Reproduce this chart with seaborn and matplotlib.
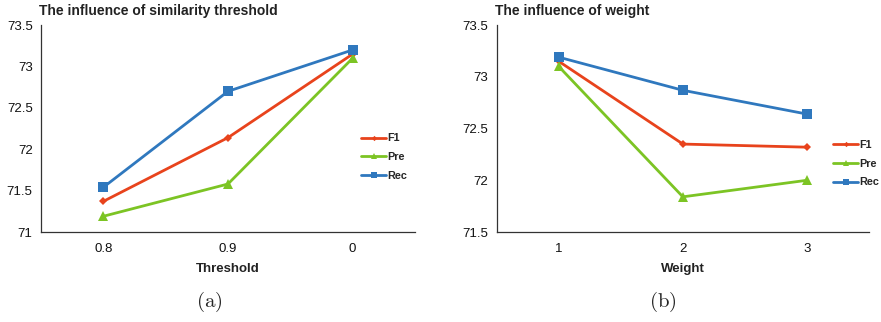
import pandas as pd
import matplotlib.pyplot as plt
import seaborn as sns

# --- Data ---
METRICS = ["F1", "Pre", "Rec"]

THRESHOLDS = ["0.8", "0.9", "0"]
THRESH_F1 = [71.37, 72.14, 73.15]
THRESH_PRE = [71.19, 71.58, 73.10]
THRESH_REC = [71.54, 72.70, 73.20]

WEIGHTS = ["1", "2", "3"]
WEIGHT_F1 = [73.15, 72.35, 72.32]
WEIGHT_PRE = [73.10, 71.84, 72.00]
WEIGHT_REC = [73.19, 72.87, 72.64]

# --- Style ---
COLORS = {"F1": "#E8431C", "Pre": "#7CC424", "Rec": "#2F78BE"}
MARKERS = {"F1": "D", "Pre": "^", "Rec": "s"}
SIZES = {"F1": 4.5, "Pre": 7, "Rec": 6.5}
FONT = "Liberation Sans"


def to_long(xs, f1, pre, rec, xname):
    rows = []
    for name, vals in zip(METRICS, [f1, pre, rec]):
        for x, v in zip(xs, vals):
            rows.append({xname: x, "Metric": name, "Score": v})
    return pd.DataFrame(rows)


def draw_panel(ax, df, xname, title, ylim, yticks, legend_anchor):
    sns.lineplot(data=df, x=xname, y="Score", hue="Metric", style="Metric",
                 palette=COLORS, markers=MARKERS, dashes=False, sort=False,
                 linewidth=2.0, markeredgewidth=0, ax=ax)
    # per-series marker sizes
    for line, name in zip(ax.get_lines()[:3], METRICS):
        line.set_markersize(SIZES[name])

    ax.set_xlim(-0.5, 2.5)
    ax.set_ylim(*ylim)
    ax.set_yticks(yticks)
    ax.set_yticklabels([f"{t:g}" for t in yticks], fontsize=9.5, family=FONT)
    for lab in ax.get_xticklabels():
        lab.set_fontsize(9.5)
        lab.set_family(FONT)
    ax.tick_params(axis="both", colors="#111111")
    ax.tick_params(axis="y", length=3, width=0.8, color="#333333", pad=3)
    ax.tick_params(axis="x", length=0, pad=8)
    for s in ["top", "right"]:
        ax.spines[s].set_visible(False)
    for s in ["left", "bottom"]:
        ax.spines[s].set_color("#333333")
        ax.spines[s].set_linewidth(0.9)

    ax.set_ylabel("")
    ax.set_xlabel(xname, fontsize=9.5, family=FONT, fontweight="bold",
                  color="#222222", labelpad=6)
    ax.set_title(title, loc="left", x=-0.005, pad=7, fontsize=10,
                 family=FONT, fontweight="bold", color="#222222")

    handles, labels = ax.get_legend_handles_labels()
    for h, name in zip(handles, METRICS):
        h.set_markersize(SIZES[name] * 0.6)
        h.set_linewidth(2.0)
    ax.legend(handles, labels, loc="center left", bbox_to_anchor=legend_anchor,
              frameon=False, handlelength=2.3, handletextpad=0.1,
              labelspacing=0.8, borderaxespad=0,
              prop={"family": FONT, "size": 7.8, "weight": "bold"})


sns.set_style("white")
plt.rcParams["mathtext.fontset"] = "cm"

fig = plt.figure(figsize=(8.81, 3.22), dpi=100)
ax1 = fig.add_axes([0.0465, 0.2795, 0.4245, 0.6425])
ax2 = fig.add_axes([0.5638, 0.2795, 0.4226, 0.6425])

df_t = to_long(THRESHOLDS, THRESH_F1, THRESH_PRE, THRESH_REC, "Threshold")
df_w = to_long(WEIGHTS, WEIGHT_F1, WEIGHT_PRE, WEIGHT_REC, "Weight")

draw_panel(ax1, df_t, "Threshold", "The influence of similarity threshold",
           (71, 73.5), [71, 71.5, 72, 72.5, 73, 73.5], (0.845, 0.362))
draw_panel(ax2, df_w, "Weight", "The influence of weight",
           (71.5, 73.5), [71.5, 72, 72.5, 73, 73.5], (0.892, 0.33))

fig.text(209 / 881, 1 - 302 / 322, r"$\mathrm{(a)}$", fontsize=15, ha="center", va="center")
fig.text(663 / 881, 1 - 302 / 322, r"$\mathrm{(b)}$", fontsize=15, ha="center", va="center")

fig.savefig("out.png", dpi=100)
